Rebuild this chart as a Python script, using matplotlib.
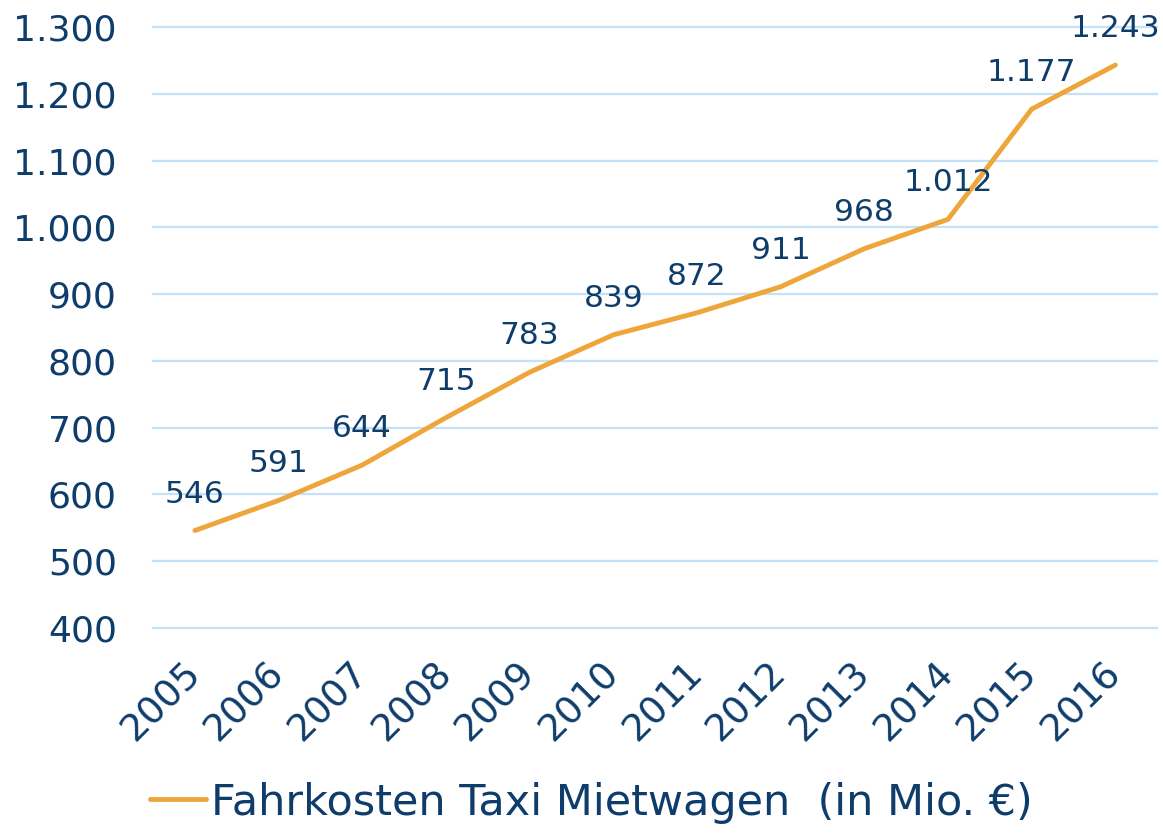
import matplotlib
matplotlib.use("Agg")
import matplotlib.pyplot as plt
from matplotlib.ticker import FuncFormatter

years = ["2005", "2006", "2007", "2008", "2009", "2010",
         "2011", "2012", "2013", "2014", "2015", "2016"]
costs = [546, 591, 644, 715, 783, 839, 872, 911, 968, 1012, 1177, 1243]
series_name = "Fahrkosten Taxi Mietwagen  (in Mio. €)"

NAVY = "#0f3d6b"
ORANGE = "#eea63a"
GRID = "#c4e1f8"


def de_num(v, _pos=None):
    # German thousands separator
    return f"{int(round(v)):,}".replace(",", ".")


fig = plt.figure(figsize=(11.63, 8.36), dpi=100)
ax = fig.add_axes([0.1316, 0.2488, 0.8634, 0.7189])

xs = list(range(len(years)))
line, = ax.plot(xs, costs, color=ORANGE, linewidth=3.5,
                solid_capstyle="round", solid_joinstyle="round", zorder=3)

for x, v in zip(xs, costs):
    ax.annotate(de_num(v), (x, v), xytext=(0, 22), textcoords="offset pixels",
                ha="center", va="bottom", fontsize=22.5, color=NAVY)

ax.set_xlim(-0.5, len(years) - 0.5)
ax.set_ylim(400, 1300)
ax.set_yticks(range(400, 1301, 100))
ax.yaxis.set_major_formatter(FuncFormatter(de_num))
ax.set_xticks(xs)
ax.set_xticklabels(years, rotation=45, ha="right", va="center",
                   rotation_mode="anchor")

ax.grid(axis="y", color=GRID, linewidth=1.6)
for gl in ax.get_ygridlines():
    gl.set_clip_on(False)
ax.set_axisbelow(True)
for s in ax.spines.values():
    s.set_visible(False)
ax.tick_params(axis="y", length=0, pad=26, labelsize=26, labelcolor=NAVY)
ax.tick_params(axis="x", length=0, pad=29, labelsize=27, labelcolor=NAVY)

fig.legend([line], [series_name], loc="center", bbox_to_anchor=(0.5086, 0.04),
           frameon=False, fontsize=31, labelcolor=NAVY, handlelength=1.3,
           handletextpad=0.12)

fig.savefig("out.png", dpi=100)
